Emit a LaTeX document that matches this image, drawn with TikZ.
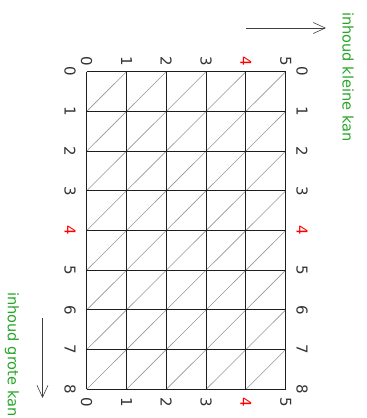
\documentclass[tikz,border=0pt]{standalone}
\usepackage{fontspec}
\setmainfont{DejaVu Sans}
\usetikzlibrary{arrows.meta}
\definecolor{lbl}{RGB}{40,165,40}
\definecolor{gridc}{RGB}{30,30,30}
\definecolor{diagc}{RGB}{150,150,150}
\begin{document}
\begin{tikzpicture}[x=1pt,y=-1pt,
  num/.style={rotate=-90,font=\fontsize{15}{17}\selectfont,text=black!80,inner sep=0pt},
  rednum/.style={num,text=red},
  caption/.style={rotate=-90,font=\fontsize{14.6}{16}\selectfont,text=lbl,inner sep=0pt,anchor=west},
  gridline/.style={draw=gridc,line width=1pt},
  diagline/.style={draw=diagc,line width=0.6pt},
  dirarrow/.style={draw=black!75,line width=0.8pt,-{Straight Barb[length=12pt,width=11pt,line width=0.6pt]}}]
\useasboundingbox (0,0) rectangle (367,418);
\begin{scope}
\clip (0,0) rectangle (367,418);
% diagonals
\foreach \c in {0,...,4}{
  \foreach \r in {0,...,7}{
    \draw[diagline] ({86.7+39.8*\c},{71.7+39.7*(\r+1)}) -- ({86.7+39.8*(\c+1)},{71.7+39.7*\r});
  }
}
% grid
\foreach \c in {0,...,5}{
  \draw[gridline] ({86.7+39.8*\c},71.7) -- ({86.7+39.8*\c},389.3);
}
\foreach \r in {0,...,8}{
  \draw[gridline] (86.7,{71.7+39.7*\r}) -- (285.7,{71.7+39.7*\r});
}
% top and bottom labels
\foreach \c in {0,1,2,3,5}{
  \node[num] (t\c) at ({86.7+39.8*\c},61.5) {\c};
  \node[num] (b\c) at ({86.7+39.8*\c},402) {\c};
}
\node[rednum] (t4) at ({86.7+39.8*4},61.5) {4};
\node[rednum] (b4) at ({86.7+39.8*4},402) {4};
% left and right labels
\foreach \r in {0,1,2,3,5,6,7,8}{
  \node[num] (l\r) at (70,{71.7+39.7*\r}) {\r};
  \node[num] (r\r) at (302,{71.7+39.7*\r}) {\r};
}
\node[rednum] (l4) at (70,{71.7+39.7*4}) {4};
\node[rednum] (r4) at (302,{71.7+39.7*4}) {4};
% arrows
\coordinate (a1s) at (246,28);
\coordinate (a1e) at (326,28);
\draw[dirarrow] (a1s) -- (a1e);
\coordinate (a2s) at (42.5,318);
\coordinate (a2e) at (42.5,398);
\draw[dirarrow] (a2s) -- (a2e);
% captions
\node[caption] (ck) at (348,12) {inhoud kleine kan};
\node[caption] (cg) at (12,292) {inhoud grote kan};
\end{scope}
\end{tikzpicture}
\end{document}
